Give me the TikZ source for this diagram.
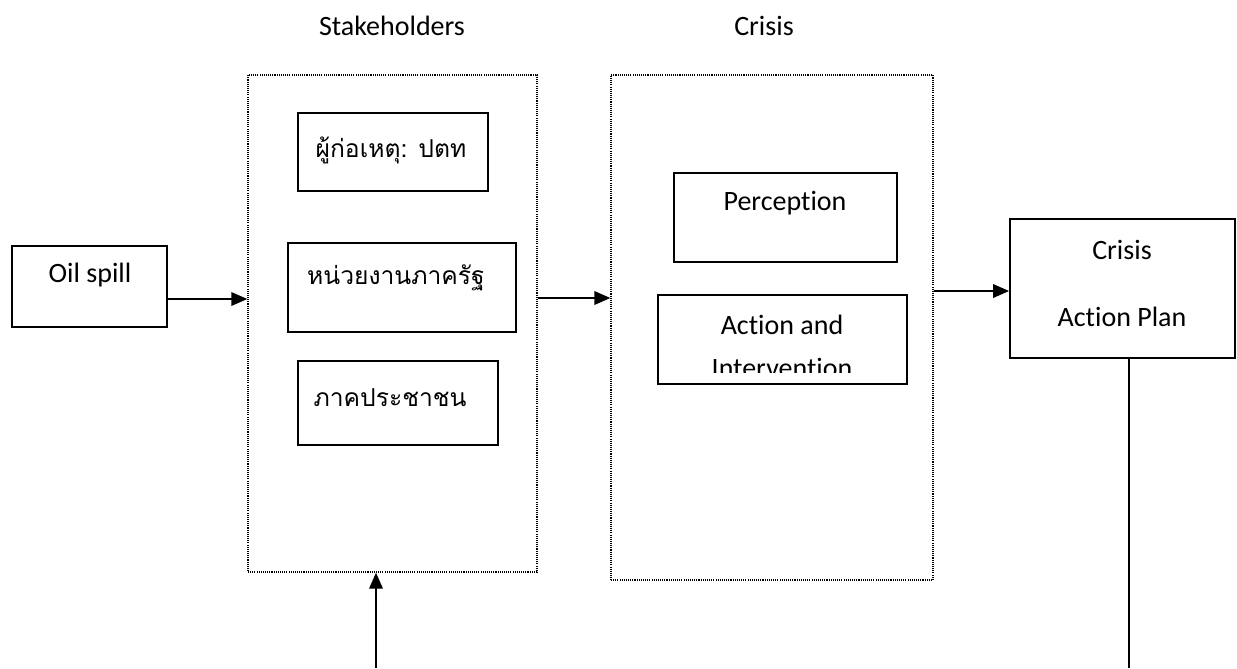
\documentclass[tikz,border=0pt]{standalone}
\usepackage{fontspec}
\setmainfont{Carlito}[Ligatures={NoCommon}]
\newfontfamily\thaifont[Script=Thai]{Loma}
\usetikzlibrary{arrows.meta,fit}
\begin{document}
\begin{tikzpicture}[x=0.75pt,y=-0.75pt,
  box/.style={draw,line width=1.3pt,inner sep=0pt},
  group/.style={draw,line width=0.9pt,dash pattern=on 0.8pt off 0.8pt,inner sep=0pt},
  lbl/.style={font=\fontsize{21}{25}\selectfont,inner sep=0pt,anchor=center},
  tlbl/.style={font=\thaifont\fontsize{18.5}{22}\selectfont,inner sep=0pt,anchor=center},
  arr/.style={line width=1.7pt,-{Triangle[length=12pt,width=10pt]}},
  ln/.style={line width=1.7pt}]
\useasboundingbox (0,0) rectangle (1237,668);
% titles
\node[lbl] (tstk) at (392,26) {Stakeholders};
\node[lbl] (tcri) at (764,26) {Crisis};
% group boxes
\node[group,fit={(248,75) (537,572)}] (stk) {};
\node[group,fit={(611,75) (933,580)}] (cri) {};
% oil spill
\node[box,fit={(12,246) (167,327)}] (oil) {};
\node[lbl] (toil) at (90,275) {Oil spill};
% stakeholders
\node[box,fit={(298,113) (488,191)}] (s1) {};
\node[tlbl] (ts1) at (391,150) {ผู้ก่อเหตุ: ปตท};
\node[box,fit={(288,243) (516,332)}] (s2) {};
\node[tlbl] (ts2) at (396,278) {หน่วยงานภาครัฐ};
\node[box,fit={(298,361) (498,445)}] (s3) {};
\node[tlbl] (ts3) at (390,398) {ภาคประชาชน};
% crisis
\node[box,fit={(674,173) (897,262)}] (c1) {};
\node[lbl] (tc1) at (785,203) {Percept\kern0pt ion};
\node[box,fit={(658,295) (907,384)}] (c2) {};
\node[lbl] (tc2a) at (782,325) {Act\kern0pt ion and};
\begin{scope}
\clip (658,295) rectangle (907,372);
\node[lbl] (tc2b) at (782,368) {Intervent\kern0pt ion};
\end{scope}
% action plan
\node[box,fit={(1010,219) (1235,358)}] (plan) {};
\node[lbl] (tp1) at (1122,250) {Crisis};
\node[lbl] (tp2) at (1122,317) {Act\kern0pt ion Plan};
% connectors
\coordinate (bin) at (376,668);
\coordinate (bout) at (1129,668);
\draw[arr] (oil.east |- 0,299) -- (stk.west |- 0,299);
\draw[arr] (stk.east |- 0,298) -- (cri.west |- 0,298);
\draw[arr] (cri.east |- 0,291) -- (plan.west |- 0,291);
\draw[arr] (bin) -- (stk.south -| bin);
\draw[ln] (plan.south -| bout) -- (bout);
\end{tikzpicture}
\end{document}
